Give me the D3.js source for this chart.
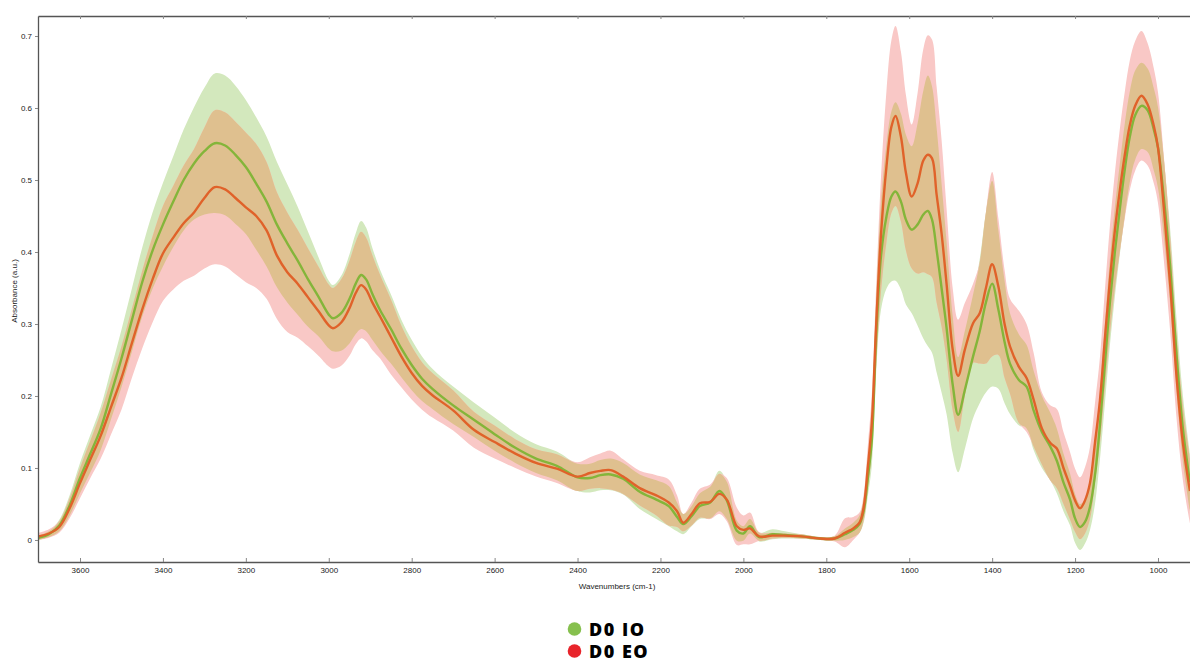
<!DOCTYPE html>
<html><head><meta charset="utf-8">
<script src="https://cdn.jsdelivr.net/npm/d3@7"></script>
<style>body{margin:0;background:#fff}svg{display:block}</style>
</head><body><svg id="c" width="1190" height="662"></svg>
<script>
// ---- data ----
const wavenumbers = [3700,3675,3650,3625,3600,3575,3550,3525,3500,3475,3450,3425,3400,3375,3350,3325,3300,3275,3250,3225,3200,3175,3150,3125,3100,3075,3050,3025,3000,2990,2970,2950,2935,2922,2910,2895,2876,2850,2825,2800,2775,2750,2700,2650,2600,2550,2500,2450,2400,2370,2345,2320,2290,2250,2210,2180,2160,2145,2125,2105,2080,2058,2040,2016,2000,1984,1962,1930,1900,1860,1815,1780,1755,1735,1720,1710,1700,1690,1680,1668,1655,1643,1633,1620,1608,1594,1580,1566,1555,1545,1534,1522,1510,1495,1482,1466,1446,1430,1415,1400,1385,1370,1357,1335,1317,1300,1280,1260,1244,1228,1212,1200,1188,1176,1164,1152,1140,1128,1116,1104,1092,1080,1068,1055,1040,1025,1010,1000,985,970,955,940,923];
const ioMean = [0.003,0.008,0.020,0.048,0.086,0.120,0.155,0.203,0.252,0.305,0.358,0.402,0.438,0.470,0.500,0.523,0.540,0.551,0.548,0.535,0.518,0.495,0.470,0.438,0.412,0.388,0.362,0.338,0.313,0.308,0.315,0.335,0.356,0.368,0.362,0.342,0.319,0.293,0.266,0.243,0.224,0.210,0.187,0.167,0.147,0.128,0.113,0.103,0.087,0.086,0.090,0.091,0.085,0.067,0.056,0.047,0.032,0.022,0.033,0.047,0.052,0.068,0.055,0.013,0.009,0.019,0.004,0.008,0.007,0.005,0.002,0.002,0.008,0.014,0.022,0.040,0.085,0.140,0.280,0.395,0.449,0.477,0.484,0.470,0.445,0.431,0.438,0.452,0.457,0.445,0.403,0.350,0.295,0.215,0.174,0.208,0.255,0.290,0.330,0.356,0.320,0.275,0.245,0.222,0.213,0.180,0.150,0.130,0.110,0.080,0.056,0.030,0.018,0.025,0.046,0.090,0.160,0.245,0.330,0.400,0.460,0.515,0.560,0.590,0.603,0.597,0.570,0.545,0.470,0.375,0.255,0.155,0.080];
const ioSd = [0.003,0.004,0.008,0.014,0.021,0.026,0.030,0.035,0.040,0.044,0.048,0.053,0.058,0.063,0.070,0.078,0.088,0.097,0.097,0.096,0.093,0.092,0.090,0.087,0.082,0.075,0.066,0.055,0.047,0.046,0.052,0.062,0.070,0.075,0.072,0.064,0.056,0.048,0.040,0.035,0.031,0.028,0.026,0.024,0.023,0.021,0.020,0.020,0.019,0.020,0.021,0.022,0.022,0.024,0.027,0.028,0.020,0.014,0.014,0.018,0.022,0.028,0.026,0.014,0.010,0.010,0.006,0.007,0.005,0.003,0.002,0.003,0.008,0.010,0.012,0.016,0.025,0.035,0.050,0.075,0.100,0.118,0.124,0.122,0.118,0.116,0.140,0.172,0.188,0.185,0.170,0.145,0.120,0.095,0.080,0.082,0.086,0.100,0.125,0.143,0.110,0.085,0.070,0.063,0.058,0.055,0.050,0.047,0.045,0.040,0.036,0.034,0.032,0.030,0.032,0.040,0.048,0.055,0.060,0.062,0.063,0.064,0.063,0.062,0.060,0.058,0.057,0.056,0.054,0.052,0.050,0.046,0.040];
const eoMean = [0.005,0.009,0.018,0.044,0.079,0.112,0.145,0.185,0.225,0.273,0.320,0.362,0.398,0.420,0.440,0.455,0.475,0.490,0.487,0.475,0.462,0.450,0.430,0.395,0.372,0.356,0.337,0.318,0.298,0.294,0.302,0.322,0.343,0.354,0.348,0.330,0.310,0.282,0.255,0.232,0.214,0.201,0.180,0.153,0.136,0.120,0.107,0.099,0.088,0.093,0.096,0.097,0.088,0.072,0.062,0.052,0.040,0.024,0.036,0.051,0.053,0.064,0.056,0.019,0.014,0.016,0.005,0.006,0.006,0.005,0.002,0.002,0.010,0.016,0.024,0.045,0.100,0.165,0.295,0.425,0.518,0.574,0.589,0.560,0.510,0.477,0.495,0.527,0.535,0.530,0.480,0.426,0.356,0.264,0.228,0.264,0.301,0.315,0.350,0.383,0.352,0.300,0.269,0.240,0.225,0.195,0.155,0.135,0.127,0.100,0.075,0.055,0.044,0.055,0.079,0.135,0.194,0.280,0.361,0.430,0.486,0.535,0.576,0.603,0.617,0.605,0.575,0.545,0.455,0.350,0.225,0.135,0.068];
const eoSd = [0.005,0.006,0.008,0.014,0.021,0.026,0.032,0.038,0.044,0.048,0.054,0.060,0.066,0.072,0.080,0.088,0.098,0.107,0.107,0.106,0.104,0.100,0.095,0.088,0.083,0.075,0.068,0.062,0.057,0.056,0.060,0.066,0.071,0.074,0.072,0.066,0.058,0.052,0.043,0.037,0.033,0.031,0.028,0.025,0.023,0.020,0.019,0.020,0.020,0.022,0.024,0.027,0.024,0.024,0.028,0.032,0.022,0.012,0.016,0.020,0.024,0.028,0.030,0.026,0.020,0.022,0.006,0.004,0.003,0.003,0.002,0.004,0.020,0.016,0.014,0.018,0.030,0.040,0.055,0.080,0.105,0.120,0.125,0.118,0.108,0.100,0.125,0.155,0.166,0.165,0.150,0.130,0.105,0.085,0.078,0.065,0.055,0.070,0.105,0.128,0.095,0.075,0.066,0.078,0.075,0.065,0.050,0.052,0.055,0.050,0.047,0.044,0.043,0.046,0.050,0.055,0.060,0.068,0.075,0.080,0.085,0.088,0.090,0.090,0.090,0.085,0.080,0.077,0.072,0.065,0.058,0.052,0.045];
const xTicks = [3600,3400,3200,3000,2800,2600,2400,2200,2000,1800,1600,1400,1200,1000];
const yTicks = [0,0.1,0.2,0.3,0.4,0.5,0.6,0.7];
const seriesNames = ["D0 IO","D0 EO"];
const xTitle = "Wavenumbers (cm-1)";
const yTitle = "Absorbance (a.u.)";

// ---- layout ----
const L = 38, R = 1190, T = 16, B = 562;
const svg = d3.select("#c");
const x = d3.scaleLinear().domain([3701.3, 922.8]).range([L, R]);
const y = d3.scaleLinear().domain([-0.0306, 0.7278]).range([B, T]);

const rows = wavenumbers.map((w, i) => ({
  w,
  ioM: ioMean[i], ioL: ioMean[i] - ioSd[i], ioU: ioMean[i] + ioSd[i],
  eoM: eoMean[i], eoL: eoMean[i] - eoSd[i], eoU: eoMean[i] + eoSd[i]
}));
rows.forEach(r => {
  r.ovL = Math.max(r.ioL, r.eoL);
  r.ovU = Math.min(r.ioU, r.eoU);
  if (r.ovU < r.ovL) r.ovU = r.ovL;
});

svg.append("clipPath").attr("id", "clip").append("rect")
  .attr("x", L).attr("y", T).attr("width", R - L).attr("height", B - T);
const g = svg.append("g").attr("clip-path", "url(#clip)");
const curve = d3.curveCatmullRom.alpha(0.5);

const area = (lo, hi) => d3.area().curve(curve).x(d => x(d.w)).y0(d => y(d[lo])).y1(d => y(d[hi]));
const line = k => d3.line().curve(curve).x(d => x(d.w)).y(d => y(d[k]));

g.append("path").datum(rows).attr("d", area("ioL", "ioU")).attr("fill", "#d3e8bd");
g.append("path").datum(rows).attr("d", area("eoL", "eoU")).attr("fill", "#f9c8c6");
g.append("path").datum(rows).attr("d", area("ovL", "ovU")).attr("fill", "#dfc08f");
g.append("path").datum(rows).attr("d", line("ioM")).attr("fill", "none")
  .attr("stroke", "#84b53a").attr("stroke-width", 2.4);
g.append("path").datum(rows).attr("d", line("eoM")).attr("fill", "none")
  .attr("stroke", "#e0622a").attr("stroke-width", 2.4);

// ---- axes ----
const axColor = "#555";
const fmtY = d => d === 0 ? "0" : d3.format(".1f")(d);
const xb = svg.append("g").attr("transform", `translate(0,${B})`)
  .call(d3.axisBottom(x).tickValues(xTicks).tickSizeInner(-4).tickSizeOuter(0).tickPadding(5).tickFormat(d3.format("d")));
const xt = svg.append("g").attr("transform", `translate(0,${T})`)
  .call(d3.axisTop(x).tickValues(xTicks).tickSizeInner(-3).tickSizeOuter(0).tickFormat(""));
const yl = svg.append("g").attr("transform", `translate(${L},0)`)
  .call(d3.axisLeft(y).tickValues(yTicks).tickSizeInner(3).tickSizeOuter(0).tickPadding(3).tickFormat(fmtY));
[xb, xt, yl].forEach(a => {
  a.select(".domain").attr("stroke", axColor).attr("stroke-width", 1.3);
  a.selectAll(".tick line").attr("stroke", "#888");
  a.selectAll(".tick text").attr("fill", "#222").style("font-family", "Liberation Sans, Arial, sans-serif").style("font-size", "8px");
});

svg.append("text").attr("x", 617).attr("y", 589).attr("text-anchor", "middle")
  .style("font-family", "Liberation Sans, Arial, sans-serif").style("font-size", "8px").attr("fill", "#222")
  .text(xTitle);
svg.append("text").attr("transform", "translate(17,291) rotate(-90)").attr("text-anchor", "middle")
  .style("font-family", "Liberation Sans, Arial, sans-serif").style("font-size", "8px").attr("fill", "#222")
  .text(yTitle);

// ---- legend ----
const legendColors = ["#86c04e", "#e8242b"];
const lg = svg.append("g");
seriesNames.forEach((n, i) => {
  const cy = 629 + i * 22;
  lg.append("circle").attr("cx", 574.5).attr("cy", cy).attr("r", 6.8).attr("fill", legendColors[i]);
  lg.append("text").attr("x", 589).attr("y", cy + 6.5)
    .style("font-family", "Open Sans, sans-serif").style("font-weight", 800).style("font-size", "18px")
    .style("letter-spacing", "1.5px").attr("fill", "#000").text(n);
});
</script></body></html>
